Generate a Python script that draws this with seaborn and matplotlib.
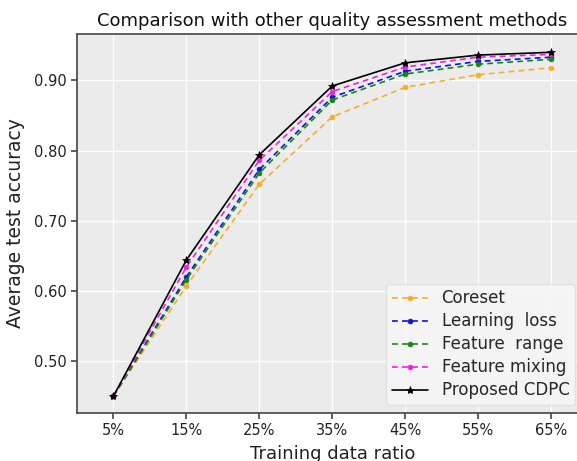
import matplotlib
matplotlib.use("Agg")
import matplotlib.pyplot as plt
import seaborn as sns
import pandas as pd

ratios = ["5%", "15%", "25%", "35%", "45%", "55%", "65%"]
coreset = [0.450, 0.607, 0.752, 0.848, 0.890, 0.908, 0.918]
learning_loss = [0.450, 0.620, 0.773, 0.876, 0.913, 0.927, 0.933]
feature_range = [0.450, 0.616, 0.768, 0.872, 0.909, 0.923, 0.930]
feature_mixing = [0.450, 0.634, 0.786, 0.884, 0.919, 0.933, 0.937]
proposed = [0.450, 0.644, 0.794, 0.892, 0.925, 0.936, 0.940]

series = [
    ("Coreset", coreset, "#F5AD2A", "o", (0, (3.5, 2.5)), 3.5),
    ("Learning  loss", learning_loss, "#1010E0", "o", (0, (3.5, 2.5)), 3.5),
    ("Feature  range", feature_range, "#118811", "o", (0, (3.5, 2.5)), 3.5),
    ("Feature mixing", feature_mixing, "#F020E0", "o", (0, (3.5, 2.5)), 3.5),
    ("Proposed CDPC", proposed, "black", "*", "-", 6),
]

sns.set_theme(style="darkgrid", rc={
    "axes.facecolor": "#EBEBEB",
    "grid.color": "white",
    "axes.edgecolor": "#444444",
    "axes.linewidth": 1.2,
})
plt.rcParams["font.family"] = ["DejaVu Sans"]

fig = plt.figure(figsize=(5.77, 4.61), dpi=100)
ax = fig.add_axes([0.1334, 0.1041, 0.885, 0.8221])

xs = list(range(len(ratios)))
for name, vals, color, marker, ls, ms in series:
    df = pd.DataFrame({"x": xs, "y": vals})
    sns.lineplot(data=df, x="x", y="y", ax=ax, color=color, marker=marker,
                 linestyle=ls, linewidth=1.2, markersize=ms,
                 markeredgewidth=0.5, markeredgecolor=color, label=name)

ax.set_xlim(-0.5, 6.5)
ax.set_ylim(0.426, 0.966)
ax.set_xticks(xs)
ax.set_xticklabels(ratios)
ax.set_yticks([0.5, 0.6, 0.7, 0.8, 0.9])
ax.set_yticklabels(["0.50", "0.60", "0.70", "0.80", "0.90"])
ax.tick_params(axis="both", which="both", length=4, width=1.1, color="#333333",
               labelsize=10.5, labelcolor="#222222", direction="out",
               left=True, bottom=True)
ax.set_xlabel("Training data ratio", fontsize=13, color="#222222", labelpad=5)
ax.set_ylabel("Average test accuracy", fontsize=13.5, color="#222222", labelpad=6)
ax.set_title("Comparison with other quality assessment methods", fontsize=13,
             color="#111111", pad=6)
for s in ax.spines.values():
    s.set_visible(True)
    s.set_color("#444444")

leg = ax.legend(loc="lower right", bbox_to_anchor=(0.997, 0.121),
                bbox_transform=fig.transFigure, fontsize=12, frameon=True,
                framealpha=0.85, facecolor="#F6F6F6", edgecolor="#DDDDDD",
                handlelength=2.2, borderpad=0.35, labelspacing=0.3,
                borderaxespad=0)

fig.savefig("out.png", dpi=100)
